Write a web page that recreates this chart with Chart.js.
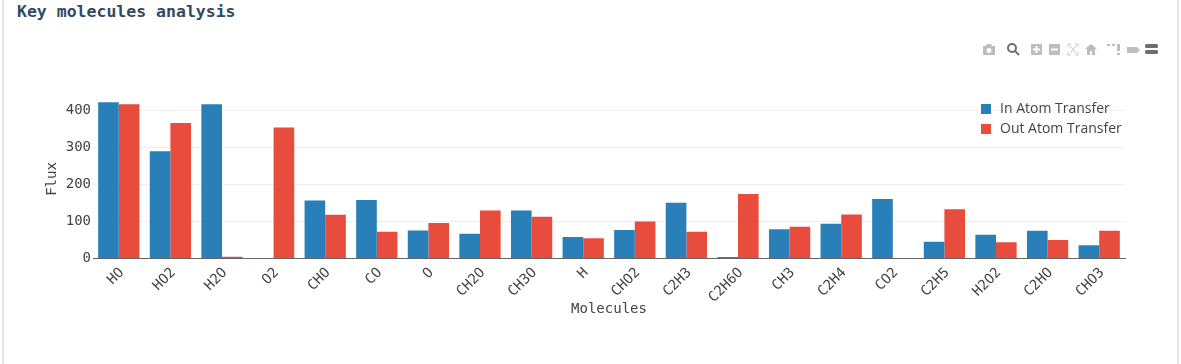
<!DOCTYPE html>
<html>
<head>
<meta charset="utf-8">
<title>Key molecules analysis</title>
<script src="https://cdn.jsdelivr.net/npm/chart.js@4/dist/chart.umd.min.js"></script>
<style>
  html, body { margin: 0; padding: 0; background: #fff; overflow: hidden; }
  #card { position: absolute; left: 2px; top: -10px; width: 1173px; height: 380px; border: 1px solid #e6e6e6; border-width: 0 2px; }
  h3 { position: absolute; left: 17px; top: 2px; margin: 0; font: bold 16.5px/20px "DejaVu Sans Mono", monospace; color: #34495e; }
  #wrap { position: absolute; left: 0; top: 0; width: 1181px; height: 364px; }
  #modebar { position: absolute; left: 980px; top: 42px; }
  #legend { position: absolute; left: 981px; top: 98px; font: 14px/20px "Open Sans", sans-serif; color: #444; white-space: nowrap; }
  #legend div { height: 20px; }
  #legend i { display: inline-block; width: 10px; height: 10px; margin-right: 9px; vertical-align: -1px; }
</style>
</head>
<body>
<div id="card"></div>
<h3>Key molecules analysis</h3>
<div id="wrap"><canvas id="chartCanvas" width="1181" height="364"></canvas></div>
<svg id="modebar" width="180" height="16" viewBox="0 0 180 16">
  <g fill="#bdbdbd">
    <path d="M3 4h3l1-2h4l1 2h3v9H3z M9 6a2.5 2.5 0 1 0 .01 0z" fill-rule="evenodd"/>
    <rect x="51" y="2" width="11" height="11"/><rect x="69" y="2" width="11" height="11"/>
    <path d="M111 2l6 5h-2v6h-3v-4h-2v4h-3V7h-2z"/>
    <path d="M127 2h3v2h-3zM132 2h3v2h-3zM137 2h3v7h-3zM137 11h3v2h-3z"/>
    <path d="M147 5h10l3 3-3 3h-10z"/>
  </g>
  <g stroke="#fff" stroke-width="2"><path d="M53 7.5h7M56.500 4v7M71 7.500h7"/></g>
  <path d="M88 5V2h3M95 2h3v3M98 10v3h-3M91 13h-3v-3M90 4l6 7M96 4l-6 7" fill="none" stroke="#c4c4c4" stroke-width="1"/>
  <g fill="none" stroke="#6e6e6e"><circle cx="32" cy="6" r="4" stroke-width="2"/><path d="M35 9l4 4" stroke-width="2"/></g>
  <g fill="#6e6e6e"><rect x="165" y="2" width="13" height="4" rx="1.500"/><rect x="165" y="8" width="13" height="4" rx="1.500"/></g>
</svg>
<div id="legend"></div>
<script>
  var categories = ['HO', 'HO2', 'H2O', 'O2', 'CHO', 'CO', 'O', 'CH2O', 'CH3O', 'H', 'CHO2', 'C2H3', 'C2H6O', 'CH3', 'C2H4', 'CO2', 'C2H5', 'H2O2', 'C2HO', 'CHO3'];
  var inAtomTransfer = [422, 290, 417, 1, 157, 158, 76, 67, 130, 58, 77, 151, 4, 79, 94, 161, 45, 64, 75, 36];
  var outAtomTransfer = [417, 366, 5, 354, 118, 72, 96, 130, 113, 55, 100, 72, 174, 86, 119, 0, 133, 44, 50, 75];
  var yTicks = [0, 100, 200, 300, 400];
  var seriesNames = ['In Atom Transfer', 'Out Atom Transfer'];
  var seriesColors = ['#2980b9', '#e74c3c'];

  var monoFont = '"DejaVu Sans Mono", monospace';

  function renderChart() {
    var ctx = document.getElementById('chartCanvas').getContext('2d');
    new Chart(ctx, {
      type: 'bar',
      data: {
        labels: categories,
        datasets: [
          { label: seriesNames[0], data: inAtomTransfer, backgroundColor: seriesColors[0], borderWidth: 0 },
          { label: seriesNames[1], data: outAtomTransfer, backgroundColor: seriesColors[1], borderWidth: 0 }
        ]
      },
      options: {
        responsive: false,
        animation: false,
        barPercentage: 1,
        categoryPercentage: 0.8,
        layout: { padding: { left: 44, right: 56, top: 99.5, bottom: 46 } },
        plugins: { legend: { display: false }, tooltip: { enabled: false } },
        scales: {
          x: {
            afterFit: function (scale) { scale.height = 59.5; },
            grid: { display: false, drawTicks: false },
            border: { color: '#666', width: 1 },
            ticks: { color: '#444', font: { family: monoFont, size: 14 }, minRotation: 45, maxRotation: 45, padding: 6, labelOffset: 3, autoSkip: false },
            title: { display: true, text: 'Molecules', color: '#444', font: { family: monoFont, size: 14 }, padding: 0 }
          },
          y: {
            min: 0,
            max: 429.7,
            afterFit: function (scale) { scale.width = 49; },
            afterBuildTicks: function (scale) {
              scale.ticks = yTicks.map(function (v) { return { value: v }; });
            },
            grid: { color: '#eeeeee', drawTicks: false },
            border: { display: false },
            ticks: { color: '#444', font: { family: monoFont, size: 14 }, padding: 2 },
            title: { display: true, text: 'Flux', color: '#444', font: { family: monoFont, size: 14 }, padding: 0 }
          }
        }
      }
    });
  }

  function renderLegend() {
    var box = document.getElementById('legend');
    seriesNames.forEach(function (name, i) {
      var row = document.createElement('div');
      var swatch = document.createElement('i');
      swatch.style.background = seriesColors[i];
      row.appendChild(swatch);
      row.appendChild(document.createTextNode(name));
      box.appendChild(row);
    });
  }

  renderChart();
  renderLegend();
</script>
</body>
</html>
